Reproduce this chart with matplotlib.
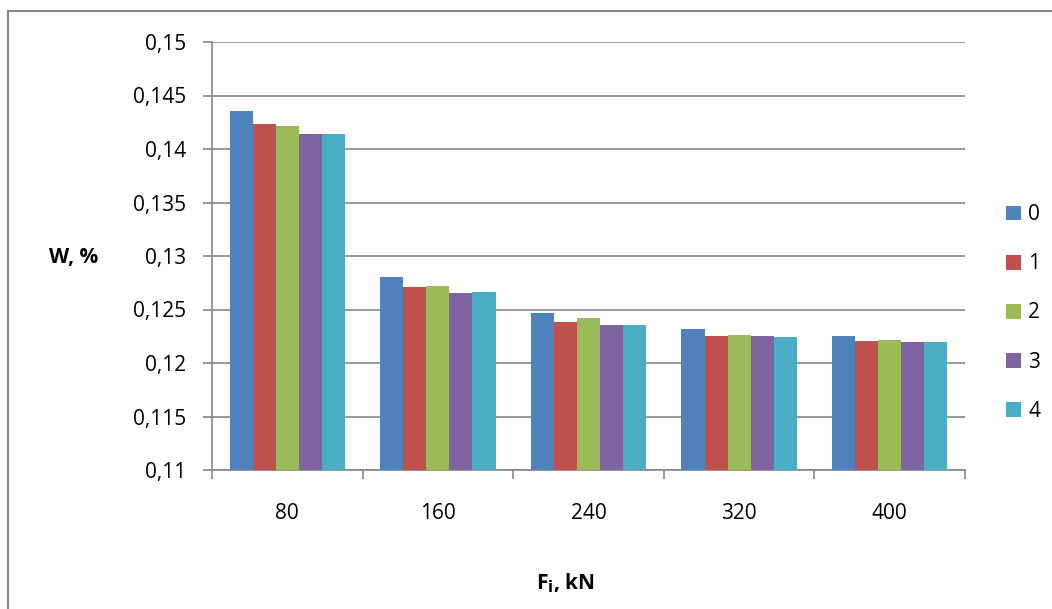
import numpy as np
import matplotlib.pyplot as plt
from matplotlib.ticker import FuncFormatter, MultipleLocator
from matplotlib.patches import Rectangle

# Datos
cargas = ["80", "160", "240", "320", "400"]
series = ["0", "1", "2", "3", "4"]
w_0 = [0.14357, 0.12806, 0.12469, 0.12315, 0.12256]
w_1 = [0.14237, 0.12713, 0.12380, 0.12250, 0.12207]
w_2 = [0.14213, 0.12716, 0.12417, 0.12262, 0.12213]
w_3 = [0.14144, 0.12657, 0.12358, 0.12253, 0.12197]
w_4 = [0.14144, 0.12667, 0.12352, 0.12244, 0.12197]
valores = [w_0, w_1, w_2, w_3, w_4]
colores = ["#4F81BD", "#C0504D", "#9BBB59", "#8064A2", "#4BACC6"]

plt.rcParams['font.family'] = ['Open Sans', 'DejaVu Sans']
fs = 15

fig = plt.figure(figsize=(10.52, 6.09), dpi=100)
ax = fig.add_axes([212/1052, 1 - 470/609, (965-212)/1052, (470-42)/609])

x = np.arange(len(cargas))
ancho = 0.153
for i, (s, v) in enumerate(zip(series, valores)):
    ax.bar(x + (i - 2) * ancho, v, width=ancho, color=colores[i], label=s, zorder=3)

ax.set_xlim(-0.5, len(cargas) - 0.5)
ax.set_ylim(0.11, 0.15)
ax.yaxis.set_major_locator(MultipleLocator(0.005))
ax.yaxis.set_major_formatter(FuncFormatter(lambda v, p: f"{v:.3f}".rstrip('0').replace('.', ',')))
ax.set_xticks(x)
ax.set_xticklabels(cargas)
ax.set_xticks(np.arange(len(cargas) + 1) - 0.5, minor=True)
ax.tick_params(axis='x', which='major', length=0, labelsize=fs, pad=24)
ax.tick_params(axis='x', which='minor', length=6.5, color='#868686', width=1.2)
ax.tick_params(axis='y', length=6.5, color='#868686', width=1.2, labelsize=fs, pad=12)

ax.grid(axis='y', color='#868686', linewidth=1.2, zorder=0)
for lado in ['top', 'right']:
    ax.spines[lado].set_visible(False)
for lado in ['left', 'bottom']:
    ax.spines[lado].set_color('#868686')
    ax.spines[lado].set_linewidth(1.2)

fig.text(74/1052, 1 - 258/609, "W, %", fontsize=fs, fontweight='bold', ha='center', va='center')
fig.text(565/1052, 1 - 583/609, r"F$_\mathbf{i}$, kN", fontsize=fs, fontweight='bold', ha='center', va='center')

ax.legend(loc='center left', bbox_to_anchor=(1006/1052, 1 - 313/609), bbox_transform=fig.transFigure,
          frameon=False, fontsize=fs, borderaxespad=0, borderpad=0,
          handlelength=0.72, handleheight=0.72, handletextpad=0.35, labelspacing=1.35)

fig.patches.append(Rectangle((8/1052, -0.05), 1.2, 1 - 11/609 + 0.05, transform=fig.transFigure,
                             fill=False, edgecolor='#868686', linewidth=1.5))

plt.savefig("out.png", dpi=100)
